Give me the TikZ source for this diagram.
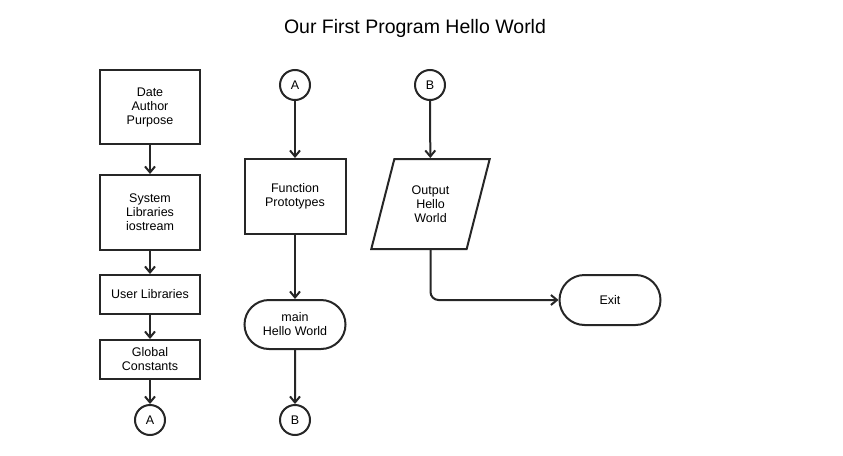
\documentclass[tikz,border=0pt]{standalone}
\usepackage{fontspec}
\setmainfont{Liberation Sans}
\usetikzlibrary{arrows.meta,shapes.geometric,shapes.misc}
\begin{document}
\begin{tikzpicture}[x=1pt,y=1pt,
  every node/.style={font=\fontsize{12.5}{14}\selectfont, align=center, text=black},
  box/.style={draw=black!85, line width=2pt, rectangle, inner sep=0pt},
  conn/.style={draw=black!85, line width=2pt, circle, minimum size=30pt, inner sep=0pt},
  term/.style={draw=black!85, line width=2pt, rounded rectangle, inner sep=0pt, minimum width=101pt, minimum height=50pt},
  io/.style={draw=black!85, line width=2pt, trapezium, trapezium left angle=72, trapezium right angle=108, trapezium stretches=true, minimum width=119pt, minimum height=90pt, inner sep=0pt},
  flow/.style={draw=black!85, line width=2pt, -{Straight Barb[length=6pt,width=10pt,line width=2pt]}}
]
\useasboundingbox (0,0) rectangle (843,-455);
\node[font=\fontsize{19.5}{22}\selectfont] (title) at (415,-28) {Our First Program Hello World};

% column 1
\node[box, minimum width=100pt, minimum height=74pt] (date) at (150,-107) {Date\\Author\\Purpose};
\node[box, minimum width=100pt, minimum height=75pt] (sys) at (150,-212.5) {System\\Libraries\\iostream};
\node[box, minimum width=100pt, minimum height=39pt] (user) at (150,-294.5) {User Libraries};
\node[box, minimum width=100pt, minimum height=39pt] (glob) at (150,-359.5) {Global\\Constants};
\node[conn] (a1) at (150,-420) {A};

% column 2
\node[conn] (a2) at (295,-85) {A};
\node[box, minimum width=101pt, minimum height=75pt] (func) at (295,-196.5) {Function\\Prototypes};
\node[term, minimum height=49pt] (main) at (295,-324.5) {main\\Hello World};
\node[conn] (b1) at (295,-420) {B};

% column 3
\node[conn] (b2) at (430,-85) {B};
\node[io] (out) at (430.5,-204) {Output\\Hello\\World};
\node[term] (exit) at (610,-300) {Exit};

\draw[flow] (date) -- (sys);
\draw[flow] (sys) -- (user);
\draw[flow] (user) -- (glob);
\draw[flow] (glob) -- (a1);
\draw[flow] (a2) -- (func);
\draw[flow] (func) -- (main);
\draw[flow] (main) -- (b1);
\draw[flow] (b2) -- (out);
\draw[flow, rounded corners=8pt] (out.south) |- (exit.west);
\end{tikzpicture}
\end{document}
